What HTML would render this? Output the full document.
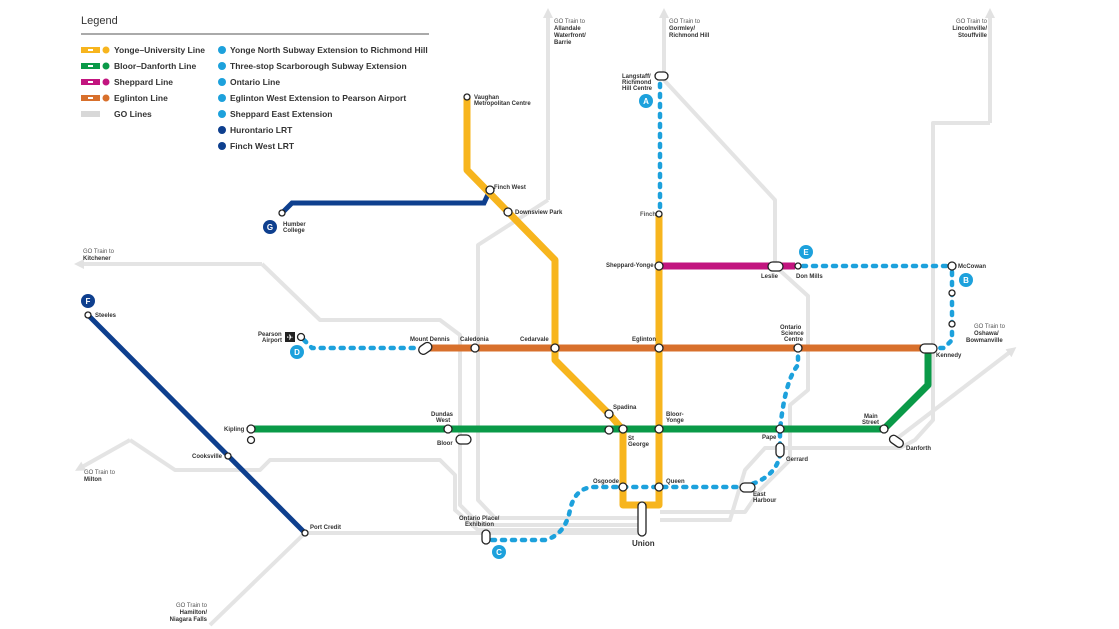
<!DOCTYPE html>
<html><head><meta charset="utf-8"><style>
html,body{margin:0;padding:0;background:#fff;width:1119px;height:629px;overflow:hidden}
svg{display:block;font-family:"Liberation Sans",sans-serif}
.s{font-size:6px;font-weight:bold;fill:#333}
.g{font-size:6px;fill:#555}
.lg{font-size:8.5px;font-weight:bold;fill:#333}
</style></head><body>
<svg width="1119" height="629" viewBox="0 0 1119 629">
<defs><marker id="ar" markerUnits="userSpaceOnUse" markerWidth="10" markerHeight="10" refX="2" refY="5" orient="auto"><path d="M0,0 L10,5 L0,10 z" fill="#e2e2e2"/></marker></defs>
<!-- GO lines -->
<g fill="none" stroke="#e4e4e4" stroke-width="4" stroke-linejoin="round">
<polyline points="548,200 548,16" marker-end="url(#ar)"/>
<polyline points="548,200 478,245 478,500 495,518 640,518"/>
<polyline points="664,80 664,16" marker-end="url(#ar)"/>
<polyline points="664,80 775,200 775,266 808,296 808,390 790,405 790,460 760,490 745,512 660,512"/>
<polyline points="990,123 990,16" marker-end="url(#ar)"/>
<polyline points="990,123 933,123 933,420 915,440 900,448 765,448 745,470 730,520 660,520"/>
<polyline points="895,440 1010,352" marker-end="url(#ar)"/>
<polyline points="262,264 82,264" marker-end="url(#ar)"/>
<polyline points="262,264 320,320 440,320 460,335 460,505 480,525 640,525"/>
<polyline points="130,440 82,467" marker-end="url(#ar)"/>
<polyline points="130,440 175,470 260,470 270,460 440,460 455,475 455,510 478,530 640,530"/>
<polyline points="305,533 210,625"/>
<polyline points="305,533 640,533"/>
</g>
<!-- Finch West LRT -->
<polyline points="282,213 292,203 484,203 490,190" fill="none" stroke="#0e3f8e" stroke-width="5"/>
<!-- Hurontario -->
<line x1="88" y1="315" x2="305" y2="533" stroke="#0e3f8e" stroke-width="5"/>
<!-- Yellow -->
<polyline points="467,97 467,170 555,260 555,360 610,415 623,430 623,505 659,505 659,215" fill="none" stroke="#f7b51e" stroke-width="7" stroke-linejoin="round"/>
<!-- Magenta -->
<line x1="659" y1="266" x2="795" y2="266" stroke="#c2157f" stroke-width="7"/>
<!-- Orange -->
<line x1="425" y1="348" x2="930" y2="348" stroke="#d8702c" stroke-width="7"/>
<!-- Green -->
<polyline points="251,429 884,429 928,385 928,350" fill="none" stroke="#0a9a48" stroke-width="7" stroke-linejoin="round"/>
<!-- Dotted -->
<g fill="none" stroke="#1da1dc" stroke-width="4.5" stroke-dasharray="3,7" stroke-linecap="round">
<line x1="660" y1="84" x2="660" y2="210"/>
<line x1="803" y1="266" x2="948" y2="266"/>
<polyline points="952,272 952,340 944,348 936,348"/>
<polyline points="304,340 312,348 418,348"/>
<path d="M492,540 L545,540 Q565,535 570,510 Q575,487 595,487 L741,487 Q775,480 780,455 L780,430 Q785,380 798,365 L798,353"/>
</g>
<!-- stations -->
<g fill="#fff" stroke="#222" stroke-width="1.3">
<circle cx="467" cy="97" r="3"/>
<circle cx="490" cy="190" r="4"/><circle cx="508" cy="212" r="4"/>
<circle cx="282" cy="213" r="3"/><circle cx="88" cy="315" r="3"/>
<circle cx="228" cy="456" r="3"/><circle cx="305" cy="533" r="3"/>
<rect x="655" y="72" width="13" height="8" rx="4"/>
<circle cx="659" cy="214" r="3"/>
<circle cx="659" cy="266" r="4"/>
<rect x="768" y="262" width="15" height="9" rx="4.5"/>
<circle cx="798" cy="266" r="3"/>
<circle cx="952" cy="266" r="4"/><circle cx="952" cy="293" r="3"/><circle cx="952" cy="324" r="3"/>
<circle cx="301" cy="337" r="3.5"/>
<rect x="418" y="344" width="14" height="9" rx="4.5" transform="rotate(-35 425 348)"/>
<circle cx="475" cy="348" r="4"/><circle cx="555" cy="348" r="4"/><circle cx="659" cy="348" r="4"/><circle cx="798" cy="348" r="4"/>
<rect x="920" y="344" width="17" height="9" rx="4.5"/>
<circle cx="251" cy="429" r="4"/><circle cx="251" cy="440" r="3.5"/>
<circle cx="448" cy="429" r="4"/>
<rect x="456" y="435" width="15" height="9" rx="4.5"/>
<circle cx="609" cy="414" r="4"/><circle cx="609" cy="430" r="4"/>
<circle cx="623" cy="429" r="4"/><circle cx="659" cy="429" r="4"/><circle cx="780" cy="429" r="4"/>
<circle cx="884" cy="429" r="4"/>
<rect x="889" y="437" width="15" height="8" rx="4" transform="rotate(35 896 441)"/>
<rect x="776" y="443" width="8" height="14" rx="4"/>
<circle cx="623" cy="487" r="4"/><circle cx="659" cy="487" r="4"/>
<rect x="740" y="483" width="15" height="9" rx="4.5"/>
<rect x="638" y="502" width="8" height="34" rx="4"/>
<rect x="482" y="530" width="8" height="14" rx="4"/>
</g>
<!-- badges -->
<g font-size="8" font-weight="bold" text-anchor="middle" fill="#fff">
<circle cx="646" cy="101" r="7" fill="#1da1dc"/><text x="646" y="104">A</text>
<circle cx="806" cy="252" r="7" fill="#1da1dc"/><text x="806" y="255">E</text>
<circle cx="966" cy="280" r="7" fill="#1da1dc"/><text x="966" y="283">B</text>
<circle cx="297" cy="352" r="7" fill="#1da1dc"/><text x="297" y="355">D</text>
<circle cx="499" cy="552" r="7" fill="#1da1dc"/><text x="499" y="555">C</text>
<circle cx="270" cy="227" r="7" fill="#0e3f8e"/><text x="270" y="230">G</text>
<circle cx="88" cy="301" r="7" fill="#0e3f8e"/><text x="88" y="304">F</text>
</g>
<rect x="285" y="332" width="10" height="10" fill="#222"/><text x="290" y="340" font-size="8" fill="#fff" text-anchor="middle">✈</text>
<!-- labels -->
<g class="s">
<text x="474" y="99">Vaughan</text><text x="474" y="105">Metropolitan Centre</text>
<text x="494" y="189">Finch West</text><text x="515" y="214">Downsview Park</text>
<text x="283" y="226">Humber</text><text x="283" y="232">College</text>
<text x="95" y="317">Steeles</text>
<text x="192" y="458">Cooksville</text><text x="310" y="529">Port Credit</text>
<text x="224" y="431">Kipling</text>
<text x="258" y="336">Pearson</text><text x="262" y="342">Airport</text>
<text x="410" y="341">Mount Dennis</text><text x="460" y="341">Caledonia</text><text x="520" y="341">Cedarvale</text><text x="632" y="341">Eglinton</text>
<text x="780" y="329">Ontario</text><text x="781" y="335">Science</text><text x="784" y="341">Centre</text>
<text x="936" y="357">Kennedy</text>
<text x="606" y="267">Sheppard-Yonge</text><text x="640" y="216" class="g">Finch</text>
<text x="761" y="278">Leslie</text><text x="796" y="278">Don Mills</text><text x="958" y="268">McCowan</text>
<text x="622" y="78">Langstaff/</text><text x="622" y="84">Richmond</text><text x="622" y="90">Hill Centre</text>
<text x="431" y="416">Dundas</text><text x="436" y="422">West</text><text x="437" y="445">Bloor</text>
<text x="613" y="409">Spadina</text><text x="628" y="440">St</text><text x="628" y="446">George</text>
<text x="666" y="416">Bloor-</text><text x="666" y="422">Yonge</text>
<text x="762" y="439">Pape</text><text x="786" y="461">Gerrard</text>
<text x="864" y="418">Main</text><text x="862" y="424">Street</text><text x="906" y="450">Danforth</text>
<text x="593" y="483">Osgoode</text><text x="666" y="483">Queen</text>
<text x="753" y="496">East</text><text x="753" y="502">Harbour</text>
<text x="459" y="520">Ontario Place/</text><text x="465" y="526">Exhibition</text>
<text x="632" y="546" font-size="8">Union</text>
</g>
<g class="g">
<text x="554" y="23">GO Train to</text><text x="554" y="30" class="s">Allandale</text><text x="554" y="37" class="s">Waterfront/</text><text x="554" y="44" class="s">Barrie</text>
<text x="669" y="23">GO Train to</text><text x="669" y="30" class="s">Gormley/</text><text x="669" y="37" class="s">Richmond Hill</text>
<text x="987" y="23" text-anchor="end">GO Train to</text><text x="987" y="30" class="s" text-anchor="end">Lincolnville/</text><text x="987" y="37" class="s" text-anchor="end">Stouffville</text>
<text x="974" y="328">GO Train to</text><text x="974" y="335" class="s">Oshawa/</text><text x="966" y="342" class="s">Bowmanville</text>
<text x="83" y="253">GO Train to</text><text x="83" y="260" class="s">Kitchener</text>
<text x="84" y="474">GO Train to</text><text x="84" y="481" class="s">Milton</text>
<text x="207" y="607" text-anchor="end">GO Train to</text><text x="207" y="614" class="s" text-anchor="end">Hamilton/</text><text x="207" y="621" class="s" text-anchor="end">Niagara Falls</text>
</g>
<!-- Legend -->
<text x="81" y="24" font-size="11" fill="#333">Legend</text>
<line x1="81" y1="34" x2="429" y2="34" stroke="#555" stroke-width="1"/>
<g>
<rect x="81" y="47" width="19" height="6" fill="#f7b51e"/><circle cx="106" cy="50" r="3.5" fill="#f7b51e"/>
<rect x="81" y="63" width="19" height="6" fill="#0a9a48"/><circle cx="106" cy="66" r="3.5" fill="#0a9a48"/>
<rect x="81" y="79" width="19" height="6" fill="#c2157f"/><circle cx="106" cy="82" r="3.5" fill="#c2157f"/>
<rect x="81" y="95" width="19" height="6" fill="#d8702c"/><circle cx="106" cy="98" r="3.5" fill="#d8702c"/>
<rect x="81" y="111" width="19" height="6" fill="#d8d8d8"/>
<g fill="#fff"><rect x="88" y="49" width="5" height="2"/><rect x="88" y="65" width="5" height="2"/><rect x="88" y="81" width="5" height="2"/><rect x="88" y="97" width="5" height="2"/></g>
<text class="lg" x="114" y="53">Yonge–University Line</text>
<text class="lg" x="114" y="69">Bloor–Danforth Line</text>
<text class="lg" x="114" y="85">Sheppard Line</text>
<text class="lg" x="114" y="101">Eglinton Line</text>
<text class="lg" x="114" y="117">GO Lines</text>
<circle cx="222" cy="50" r="4" fill="#1da1dc"/><circle cx="222" cy="66" r="4" fill="#1da1dc"/><circle cx="222" cy="82" r="4" fill="#1da1dc"/><circle cx="222" cy="98" r="4" fill="#1da1dc"/><circle cx="222" cy="114" r="4" fill="#1da1dc"/><circle cx="222" cy="130" r="4" fill="#0e3f8e"/><circle cx="222" cy="146" r="4" fill="#0e3f8e"/>
<text class="lg" x="230" y="53">Yonge North Subway Extension to Richmond Hill</text>
<text class="lg" x="230" y="69">Three-stop Scarborough Subway Extension</text>
<text class="lg" x="230" y="85">Ontario Line</text>
<text class="lg" x="230" y="101">Eglinton West Extension to Pearson Airport</text>
<text class="lg" x="230" y="117">Sheppard East Extension</text>
<text class="lg" x="230" y="133">Hurontario LRT</text>
<text class="lg" x="230" y="149">Finch West LRT</text>
</g>
</svg>
</body></html>
